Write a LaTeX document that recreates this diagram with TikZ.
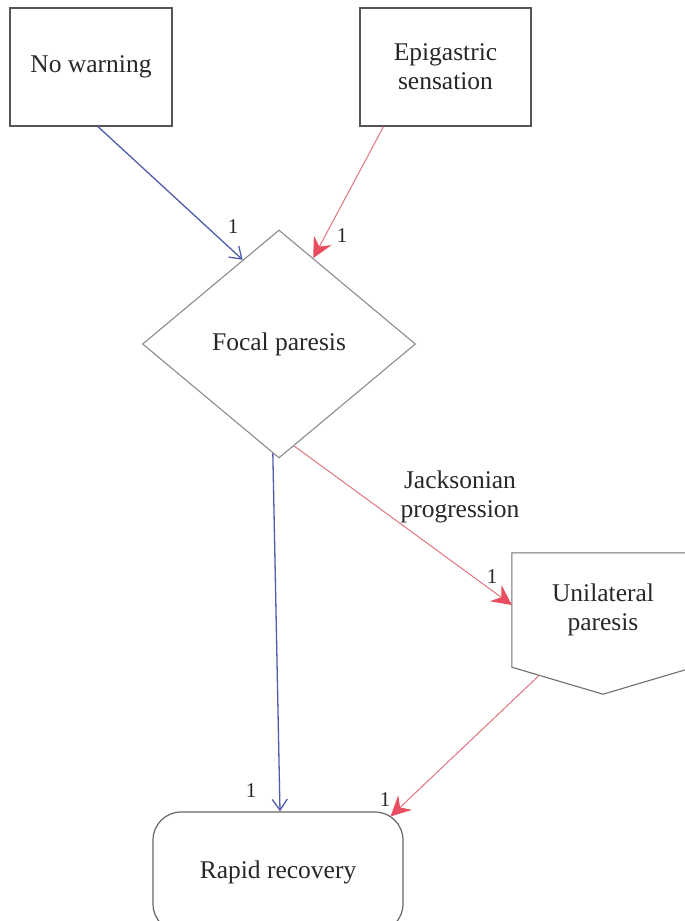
\documentclass[tikz,border=0pt]{standalone}
\usepackage{fontspec}
\setmainfont{Liberation Serif}
\usetikzlibrary{shapes.geometric,arrows.meta,calc}

\definecolor{boxline}{RGB}{85,85,85}
\definecolor{softline}{RGB}{140,140,140}
\definecolor{inkgray}{RGB}{40,40,40}
\definecolor{flowblue}{RGB}{80,92,172}
\definecolor{flowred}{RGB}{226,118,128}
\definecolor{headred}{RGB}{232,78,96}

\tikzset{
  boxtext/.style={font=\fontsize{25.5}{29}\selectfont, text=inkgray, align=center, inner sep=0pt},
  eventbox/.style={boxtext, draw=boxline, line width=1.3pt, rectangle},
  choicebox/.style={boxtext, draw=softline, line width=1.1pt, diamond, aspect=1.2},
  endbox/.style={boxtext, draw=boxline!90, line width=1.2pt, rectangle, rounded corners=28pt},
  count/.style={font=\fontsize{21}{23}\selectfont, text=inkgray, inner sep=0pt},
  bluelink/.style={draw=flowblue, line width=1.3pt,
    -{Straight Barb[length=11pt,width=15pt,line width=1.3pt]}},
  redlink/.style={draw=flowred, line width=1pt,
    -{Stealth[length=20pt,width=20pt,inset=7pt,color=headred]}}
}

\begin{document}
\begin{tikzpicture}[x=1pt,y=-1pt]
  \fill[white] (0,0) rectangle (685,921);
  \useasboundingbox (0,0) rectangle (685,921);

  % states
  \node[eventbox, minimum width=162pt, minimum height=118pt] (nowarn) at (91,67) {No warning};
  \node[eventbox, minimum width=171pt, minimum height=118pt] (epi) at (445.5,67) {Epigastric\\sensation};
  \node[choicebox, minimum width=273pt, minimum height=228pt] (focal) at (279,344) {Focal paresis};
  \node[boxtext, minimum width=182pt, minimum height=114pt] (uni) at (603,610) {Unilateral\\paresis};
  \draw[boxline!85, line width=1.1pt]
    (uni.north west) -- (uni.south west) -- ($(uni.south)+(0,27)$)
    -- (uni.south east) -- (uni.north east) -- cycle;
  \node[endbox, minimum width=250pt, minimum height=120pt] (rapid) at (278,872) {Rapid recovery};

  % transitions
  \draw[bluelink] ([xshift=7pt]nowarn.south) -- ($(focal.north)!0.265!(focal.west)$);
  \draw[redlink] ([xshift=-62pt]epi.south) -- ($(focal.north)!0.25!(focal.east)$);
  \draw[bluelink] ($(focal.south)!0.045!(focal.west)$) -- ([xshift=2pt]rapid.north);
  \draw[redlink] ($(focal.south)!0.11!(focal.east)$) -- ([yshift=5pt]uni.west);
  \coordinate (unibase) at ($(uni.south west)!0.3!($(uni.south)+(0,27)$)$);
  \draw[redlink] (unibase) -- ($(rapid.north east)+(-13,5)$);

  % counts and labels
  \node[count] (c1) at (233,227) {1};
  \node[count] (c2) at (342,236) {1};
  \node[count] (c3) at (492,577) {1};
  \node[count] (c4) at (251,791) {1};
  \node[count] (c5) at (385,800) {1};
  \node[boxtext] (jack) at (460,497) {Jacksonian\\progression};
\end{tikzpicture}
\end{document}
